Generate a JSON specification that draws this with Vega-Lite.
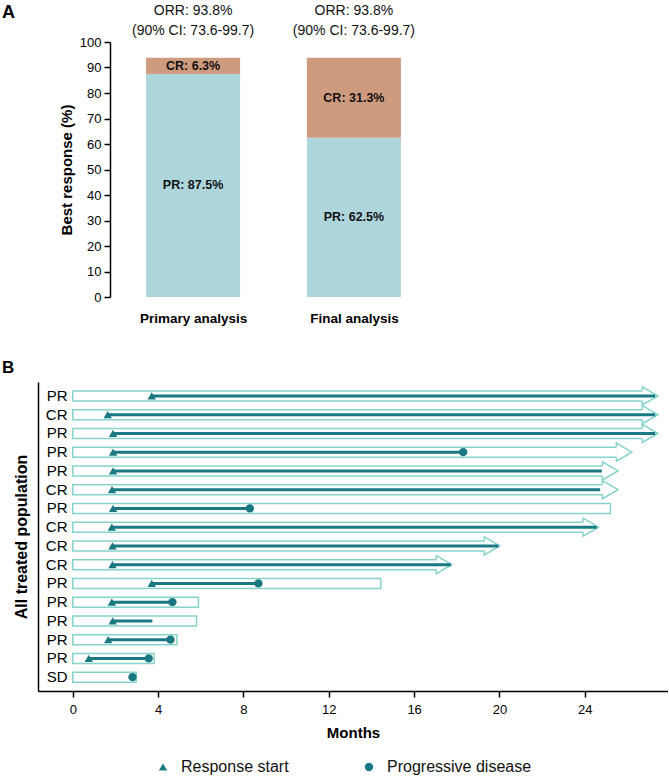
{
  "$schema": "https://vega.github.io/schema/vega-lite/v6.json",
  "padding": {"left": 2, "top": 4, "right": 0, "bottom": 0},
  "spacing": 34,
  "config": {
    "view": {"stroke": null},
    "font": "Liberation Sans",
    "axis": {"domainColor": "#000", "tickColor": "#000", "labelColor": "#000", "titleColor": "#000", "grid": false, "domainWidth": 1.5, "tickWidth": 1.5},
    "title": {"color": "#000", "fontWeight": "bold", "font": "Liberation Sans"}
  },
  "datasets": {
    "bars": [
      {"pos": 1, "analysis": "Primary analysis", "resp": "PR", "value": 87.5, "label": "PR: 87.5%"},
      {"pos": 1, "analysis": "Primary analysis", "resp": "CR", "value": 6.3, "label": "CR: 6.3%"},
      {"pos": 2, "analysis": "Final analysis", "resp": "PR", "value": 62.5, "label": "PR: 62.5%"},
      {"pos": 2, "analysis": "Final analysis", "resp": "CR", "value": 31.3, "label": "CR: 31.3%"}
    ],
    "orr": [
      {"pos": 1, "text": "ORR: 93.8%\n(90% CI: 73.6-99.7)"},
      {"pos": 2, "text": "ORR: 93.8%\n(90% CI: 73.6-99.7)"}
    ],
    "patients": [
      {"id": "01|PR", "box_end": 26.75, "ongoing": true, "start": 3.7, "line_end": 27.3},
      {"id": "02|CR", "box_end": 26.75, "ongoing": true, "start": 1.64, "line_end": 27.3},
      {"id": "03|PR", "box_end": 26.75, "ongoing": true, "start": 1.89, "line_end": 27.3},
      {"id": "04|PR", "box_end": 25.53, "ongoing": true, "start": 1.89, "line_end": 18.3},
      {"id": "05|PR", "box_end": 24.88, "ongoing": true, "start": 1.89, "line_end": 24.8},
      {"id": "06|CR", "box_end": 24.88, "ongoing": true, "start": 1.84, "line_end": 24.72},
      {"id": "07|PR", "box_end": 25.2, "ongoing": false, "start": 1.89, "line_end": 8.3},
      {"id": "08|CR", "box_end": 23.97, "ongoing": true, "start": 1.83, "line_end": 24.56},
      {"id": "09|CR", "box_end": 19.34, "ongoing": true, "start": 1.86, "line_end": 19.95},
      {"id": "10|CR", "box_end": 17.09, "ongoing": true, "start": 1.86, "line_end": 17.72},
      {"id": "11|PR", "box_end": 14.44, "ongoing": false, "start": 3.7, "line_end": 8.7},
      {"id": "12|PR", "box_end": 5.89, "ongoing": false, "start": 1.83, "line_end": 4.67},
      {"id": "13|PR", "box_end": 5.8, "ongoing": false, "start": 1.87, "line_end": 3.73},
      {"id": "14|PR", "box_end": 4.88, "ongoing": false, "start": 1.66, "line_end": 4.58},
      {"id": "15|PR", "box_end": 3.81, "ongoing": false, "start": 0.75, "line_end": 3.56},
      {"id": "16|SD", "box_end": 2.97, "ongoing": false, "start": null, "line_end": null}
    ],
    "events": [
      {"id": "01|PR", "event": "Response start", "month": 3.7},
      {"id": "02|CR", "event": "Response start", "month": 1.64},
      {"id": "03|PR", "event": "Response start", "month": 1.89},
      {"id": "04|PR", "event": "Response start", "month": 1.89},
      {"id": "05|PR", "event": "Response start", "month": 1.89},
      {"id": "06|CR", "event": "Response start", "month": 1.84},
      {"id": "07|PR", "event": "Response start", "month": 1.89},
      {"id": "08|CR", "event": "Response start", "month": 1.83},
      {"id": "09|CR", "event": "Response start", "month": 1.86},
      {"id": "10|CR", "event": "Response start", "month": 1.86},
      {"id": "11|PR", "event": "Response start", "month": 3.7},
      {"id": "12|PR", "event": "Response start", "month": 1.83},
      {"id": "13|PR", "event": "Response start", "month": 1.87},
      {"id": "14|PR", "event": "Response start", "month": 1.66},
      {"id": "15|PR", "event": "Response start", "month": 0.75},
      {"id": "04|PR", "event": "Progressive disease", "month": 18.3},
      {"id": "07|PR", "event": "Progressive disease", "month": 8.3},
      {"id": "11|PR", "event": "Progressive disease", "month": 8.7},
      {"id": "12|PR", "event": "Progressive disease", "month": 4.67},
      {"id": "14|PR", "event": "Progressive disease", "month": 4.58},
      {"id": "15|PR", "event": "Progressive disease", "month": 3.56},
      {"id": "16|SD", "event": "Progressive disease", "month": 2.8}
    ]
  },
  "vconcat": [
    {
      "width": 394,
      "height": 255,
      "title": {"text": "A", "anchor": "start", "frame": "group", "dx": -36, "fontSize": 18, "offset": -18},
      "layer": [
        {
          "data": {"name": "bars"},
          "mark": {"type": "bar", "size": 94, "orient": "vertical"},
          "encoding": {
            "x": {"field": "pos", "type": "quantitative", "scale": {"domain": [0.0667, 2.4545], "nice": false, "zero": false},
              "axis": {"values": [1, 2], "labelExpr": "datum.value == 1 ? 'Primary analysis' : 'Final analysis'", "domain": false, "ticks": false, "tickSize": 0, "labelFontWeight": "bold", "labelFontSize": 13.5, "labelPadding": 14, "title": null}},
            "y": {"field": "value", "type": "quantitative", "stack": "zero", "scale": {"domain": [0, 100], "nice": false},
              "axis": {"offset": -72, "values": [0, 10, 20, 30, 40, 50, 60, 70, 80, 90, 100], "labelOverlap": false, "tickSize": 6, "labelFontSize": 13, "labelPadding": 3, "title": "Best response (%)", "titleFontSize": 15, "titleFontWeight": "bold", "titlePadding": 5}},
            "color": {"field": "resp", "type": "nominal", "scale": {"domain": ["PR", "CR"], "range": ["#acd5dc", "#cf9b7e"]}, "legend": null},
            "order": {"field": "resp", "sort": "descending"}
          }
        },
        {
          "data": {"name": "bars"},
          "mark": {"type": "text", "fontWeight": "bold", "fontSize": 12.5, "color": "#111"},
          "encoding": {
            "x": {"field": "pos", "type": "quantitative"},
            "y": {"field": "value", "type": "quantitative", "stack": "zero", "bandPosition": 0.5,
              "axis": {"offset": -72, "values": [0, 10, 20, 30, 40, 50, 60, 70, 80, 90, 100], "labelOverlap": false, "tickSize": 6, "labelFontSize": 13, "labelPadding": 3, "title": "Best response (%)", "titleFontSize": 15, "titleFontWeight": "bold", "titlePadding": 5}},
            "text": {"field": "label"},
            "detail": {"field": "resp"},
            "order": {"field": "resp", "sort": "descending"}
          }
        },
        {
          "data": {"name": "orr"},
          "mark": {"type": "text", "fontSize": 14, "lineBreak": "\n", "lineHeight": 20, "baseline": "bottom", "dy": -24, "color": "#111"},
          "encoding": {
            "x": {"field": "pos", "type": "quantitative"},
            "y": {"datum": 100,
              "axis": {"offset": -72, "values": [0, 10, 20, 30, 40, 50, 60, 70, 80, 90, 100], "labelOverlap": false, "tickSize": 6, "labelFontSize": 13, "labelPadding": 3, "title": "Best response (%)", "titleFontSize": 15, "titleFontWeight": "bold", "titlePadding": 5}},
            "text": {"field": "text"}
          }
        },
        {
          "mark": {"type": "rule", "color": "#000", "strokeWidth": 1.5},
          "encoding": {"x": {"datum": 0.503}, "x2": {"datum": 2.4545},
            "y": {"datum": 0,
              "axis": {"offset": -72, "values": [0, 10, 20, 30, 40, 50, 60, 70, 80, 90, 100], "labelOverlap": false, "tickSize": 6, "labelFontSize": 13, "labelPadding": 3, "title": "Best response (%)", "titleFontSize": 15, "titleFontWeight": "bold", "titlePadding": 5}}}
        }
      ]
    },
    {
      "width": 630,
      "height": 309,
      "title": {"text": "B", "anchor": "start", "frame": "group", "dx": -36, "fontSize": 17, "offset": 5},
      "layer": [
        {
          "data": {"name": "patients"},
          "mark": {"type": "bar", "size": 10, "fill": "#ffffff", "stroke": "#86d3cc", "strokeWidth": 1.5},
          "encoding": {
            "y": {"field": "id", "type": "nominal", "scale": {"paddingInner": 0, "paddingOuter": 0.24},
              "axis": {"title": "All treated population", "titleFontSize": 16, "titleFontWeight": "bold", "titlePadding": 9, "labelExpr": "split(datum.value, '|')[1]", "labelFontSize": 15, "labelPadding": -29, "labelAlign": "right", "ticks": false, "tickSize": 0}},
            "x": {"field": "box_end", "type": "quantitative", "scale": {"domain": [-1.63, 27.9], "nice": false, "zero": false},
              "axis": {"values": [0, 4, 8, 12, 16, 20, 24], "tickSize": 6, "labelFontSize": 13, "labelPadding": 6, "title": "Months", "titleFontSize": 15, "titleFontWeight": "bold", "titlePadding": 9}},
            "x2": {"datum": 0}
          }
        },
        {
          "data": {"name": "patients"},
          "transform": [{"filter": "datum.ongoing"}],
          "mark": {"type": "point", "shape": "M -0.12,-0.556 L -0.12,-1 L 1.6,0 L -0.12,1 L -0.12,0.556", "size": 324, "filled": false, "fill": "#ffffff", "fillOpacity": 1, "stroke": "#86d3cc", "strokeWidth": 1.5, "opacity": 1},
          "encoding": {
            "y": {"field": "id", "type": "nominal"},
            "x": {"field": "box_end", "type": "quantitative"}
          }
        },
        {
          "data": {"name": "patients"},
          "transform": [{"filter": "datum.start != null"}],
          "mark": {"type": "rule", "color": "#1a7882", "strokeWidth": 3},
          "encoding": {
            "y": {"field": "id", "type": "nominal"},
            "x": {"field": "start", "type": "quantitative"},
            "x2": {"field": "line_end"}
          }
        },
        {
          "data": {"name": "events"},
          "mark": {"type": "point", "filled": true, "size": 70, "color": "#1a7882", "opacity": 1},
          "encoding": {
            "y": {"field": "id", "type": "nominal"},
            "x": {"field": "month", "type": "quantitative"},
            "shape": {"field": "event", "type": "nominal",
              "scale": {"domain": ["Response start", "Progressive disease"], "range": ["triangle-up", "circle"]},
              "legend": {"orient": "none", "legendX": 117, "legendY": 717, "direction": "horizontal", "title": null, "labelFontSize": 16, "labelColor": "#111", "symbolSize": 70, "symbolFillColor": "#1a7882", "symbolStrokeColor": "#1a7882", "symbolStrokeWidth": 0, "columnPadding": 72, "labelOffset": 10}}
          }
        }
      ]
    }
  ]
}
